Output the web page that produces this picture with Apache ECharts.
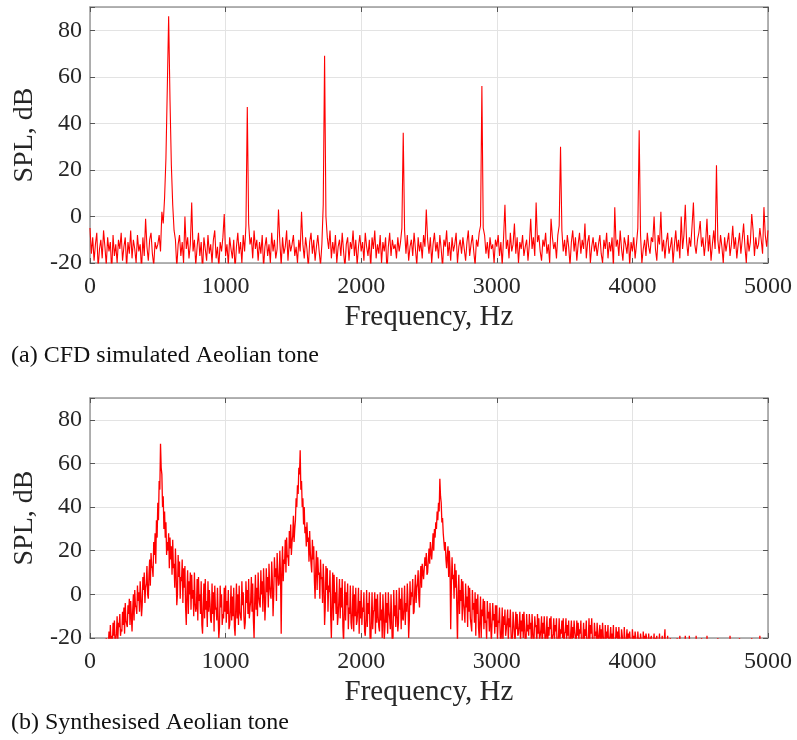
<!DOCTYPE html>
<html>
<head>
<meta charset="utf-8">
<script src="https://cdn.jsdelivr.net/npm/echarts@6/dist/echarts.min.js"></script>
<style>
html,body{margin:0;padding:0;background:#fff;}
#chart{width:797px;height:740px;}
</style>
</head>
<body>
<div id="chart"></div>
<script>
// Frequency sample grid (Hz): 0..5000 every 10 Hz (panel b also has samples halfway, at +5 Hz)
const FREQ_STEP = 10;
const FREQ_MAX = 5000;
const xTicks = [0, 1000, 2000, 3000, 4000, 5000];
const yTicks = [-20, 0, 20, 40, 60, 80];

// (a) CFD simulated Aeolian tone, SPL (dB) at 0,10,20,... Hz
const splCFD = [
  -5,-16,-9,-19,-12,-7,-22,-14,-10,-18,-6,-13,-21,-9,-15,-11,-24,-8,-17,-12,-20,-10,-14,-7,-19,
  -13,-9,-22,-11,-16,-6,-18,-10,-14,-20,-8,-15,-12,-23,-9,-17,-1,-13,-19,-10,-7,-16,-21,-11,-14,
  -12,-8,-15,2,-3,8,25,55,86,50,22,5,-6,-10,-22,-12,-8,-17,-11,-20,0,-14,-9,-18,-12,
  6,-15,-10,-21,-13,-7,-17,-11,-24,-9,-14,-19,-8,-16,-12,-20,-10,-6,-18,-13,-22,-11,-15,-9,1,
  -17,-12,-21,-9,-14,-18,-10,-23,-13,-7,-16,-11,-20,-8,-15,-4,47,-3,-12,-9,-18,-6,-14,-10,-19,
  -11,-16,-8,-22,-13,-9,-17,-12,-20,-7,-15,-10,-18,-14,3,-11,-21,-9,-16,-13,-6,-19,-10,-15,-12,
  -8,-17,-13,-20,-10,-15,2,-12,-18,-9,-14,-22,-11,-7,-16,-10,-19,-13,-8,-15,-21,-12,5,69,0,
  -9,-14,-6,-18,-11,-16,-8,-20,-13,-10,-17,-7,-15,-22,-12,-9,-19,-11,-14,-6,-17,-10,-21,-13,-8,
  -15,-11,-19,-7,-13,-17,-10,-22,-9,-14,-6,-18,-12,-16,-8,-20,-11,-15,-9,-24,-13,-7,-17,-10,-14,
  -12,-18,-9,-15,-11,-5,36,-6,-16,-8,-19,-13,-10,-17,-7,-14,-21,-9,-15,-11,-18,-8,-13,3,-10,
  -16,-9,-20,-12,-7,-15,-11,-18,-8,-14,-22,-10,-13,-6,-17,-11,-19,-9,-15,-12,-7,-20,-13,-10,-16,
  -9,-14,-19,-11,-6,-17,-12,-8,-15,-21,-10,-13,-7,-4,56,-5,-8,-16,-11,-18,-9,-14,-12,-20,-10,
  -13,-8,-17,-11,-21,-9,5,-14,-10,-18,-7,-15,-12,-3,-16,-9,-20,-11,-14,-8,-17,-13,-10,-19,-12,
  -1,-14,-9,-17,6,-11,-8,-15,-19,-10,-13,-7,-16,-12,-20,-1,-9,-14,-11,-18,-8,-4,30,-6,-15,
  -10,-17,-8,-13,-21,-11,-6,-15,-9,-19,-12,-7,-16,-10,-14,-3,-18,-11,-8,-20,-13,-9,-15,-11,-17,
  -12,-8,-16,-20,-10,-14,-7,-18,-11,-15,-9,-22,4,-13,-10,-17,-6,-14,-19,-9,-12,-16,-8,-21,-11,
  -15,-9,-18,-12,-5,37,-8,-20,-14,-10,-17,-7,-13,-16,-9,-11,0,-14,-19,-8,-12,2,-15,-10,-18,
  -11,-7,-16,-13,-9,-20,-12,-6,-15,-10,-18,0,-14,-8,5,-11,-17,-9,-13,-4,6,-12,-16,-10,-7,
  -2,-13,-9,-17,-11,-1,-15,-8,-19,-12,-6,-14,22,-10,-16,-8,-13,-20,-9,-15,-11,-7,-17,-12,-4,
  -14,-9,-18,-12,-7,-16,-10,-3,-13,-20,-8,-15,-11,1,-6,-17,-9,-14,-12,-5,-10,-16,4,-8,-13,
  -6
];

// (b) Synthesised Aeolian tone, SPL (dB) at 0,10,20,... Hz
const splSynthA = [
  -35,-33,-38,-34,-36,-32,-35,-30,-33,-28,-31,-25,-20,-22,-17,-14,-19,-13,-12,-21,-10,-13,-9,-16,-8,
  -6,-4,-12,-5,-2,-3,-17,0,2,-6,4,1,6,-10,8,10,3,13,-2,16,19,12,24,28,34,
  42,52,69,55,45,38,33,24,28,26,22,25,14,21,-5,18,15,8,16,12,13,-14,11,6,10,
  9,2,10,-8,7,8,0,6,-18,5,7,-3,6,2,-12,5,1,4,-6,3,-20,4,0,-9,3,
  4,-3,2,-14,4,-1,3,-19,5,0,4,-8,6,1,-16,6,2,7,-6,8,5,-20,9,3,10,
  -4,11,6,12,-12,12,8,14,0,15,-10,17,12,19,4,20,-18,22,16,25,26,18,29,32,24,
  36,30,44,50,58,66,52,44,40,31,33,26,29,14,25,22,-2,20,17,10,16,8,14,-14,13,
  12,4,11,-20,10,9,1,8,-10,7,3,7,-22,6,1,5,-6,4,-16,4,0,3,-12,3,-3,
  2,-6,1,-19,2,-4,1,-24,1,-8,1,-2,0,-15,1,-7,0,-21,1,-4,1,-11,0,-25,2,
  -5,2,-17,3,-2,3,-12,4,-4,5,-20,6,1,7,-8,9,3,11,-6,13,14,7,17,19,10,
  21,24,16,28,30,33,38,42,53,42,35,28,24,12,22,20,-16,17,9,14,11,-22,9,2,7,
  6,-8,5,-1,4,3,-14,2,-4,1,-2,0,-20,-1,-7,-2,-3,-12,-3,-8,-4,-22,-4,-9,-5,
  -5,-12,-6,-24,-6,-10,-7,-16,-7,-11,-7,-26,-8,-13,-8,-9,-18,-8,-12,-9,-8,-22,-9,-14,-9,
  -13,-9,-24,-10,-14,-9,-11,-19,-10,-13,-10,-25,-10,-15,-11,-10,-20,-11,-14,-11,-23,-11,-16,-12,-11,
  -18,-11,-14,-12,-26,-12,-15,-12,-20,-12,-13,-16,-12,-27,-13,-16,-12,-21,-11,-14,-11,-24,-13,-17,-13,
  -22,-14,-16,-13,-25,-14,-17,-14,-21,-15,-18,-14,-28,-15,-17,-15,-23,-16,-19,-15,-26,-16,-18,-17,-24,
  -16,-19,-17,-27,-17,-20,-18,-23,-17,-19,-18,-29,-18,-21,-19,-25,-18,-20,-19,-27,-18,-21,-19,-24,-16,
  -22,-19,-28,-20,-24,-21,-30,-22,-20,-26,-19,-24,-21,-29,-19,-23,-22,-19,-27,-21,-25,-22,-19,-28,-21,
  -24,-20,-30,-22,-25,-19,-28,-23,-21,-27,-22,-31,-24,-20,-26,-23,-29,-21,-25,-30,-22,-27,-19,-28,-24,
  -21,-29,-25,-31,-20,-26,-30,-23,-28,-21,-32,-26,-29,-20,-27,-31,-24,-30,-28,-19,-33,-27,-29,-31,-26,
  -30
];

// (b) Synthesised Aeolian tone, SPL (dB) at 5,15,25,... Hz
const splSynthB = [
  -40,-38,-41,-39,-40,-37,-39,-36,-38,-34,-33,-30,-27,-24,-26,-22,-24,-19,-23,-18,-21,-15,-19,-17,-14,
  -18,-12,-15,-9,-14,-10,-7,-12,-5,-9,-3,-8,-1,-5,2,-4,5,0,9,4,13,8,18,14,26,
  34,48,58,40,30,26,18,20,12,16,9,12,3,10,0,8,-2,6,-4,3,-6,2,-9,0,-7,
  -2,-10,-4,-6,-12,-3,-9,-14,-5,-11,-7,-15,-8,-4,-13,-9,-17,-7,-12,-10,-15,-6,-14,-11,-8,
  -13,-9,-16,-7,-12,-10,-15,-6,-11,-14,-8,-12,-5,-10,-13,-4,-9,-11,-3,-8,-12,-2,-7,-10,-1,
  -6,0,-8,2,-4,1,-6,4,-2,6,0,8,-3,10,5,9,12,6,14,10,17,13,21,18,27,
  24,34,40,46,55,48,40,32,28,22,24,15,19,10,16,6,12,2,9,-2,7,-4,5,-6,2,
  -8,1,-10,-2,-12,-4,-9,-14,-3,-11,-6,-15,-8,-12,-5,-16,-9,-13,-7,-17,-10,-14,-6,-18,-11,
  -14,-8,-17,-11,-15,-9,-19,-12,-16,-7,-18,-13,-10,-17,-12,-20,-9,-15,-13,-18,-8,-16,-12,-19,-10,
  -15,-9,-13,-7,-16,-11,-6,-14,-8,-3,-12,-5,-1,-9,2,-4,5,-2,8,3,10,7,13,9,16,
  14,19,22,20,26,30,34,38,45,33,28,20,16,18,8,12,4,7,-2,3,-6,1,-9,-3,-12,
  -4,-13,-6,-15,-8,-11,-17,-7,-13,-19,-9,-15,-11,-20,-10,-16,-13,-21,-11,-17,-14,-22,-12,-18,-15,
  -21,-13,-18,-16,-23,-14,-19,-12,-22,-15,-18,-20,-13,-24,-16,-19,-14,-22,-17,-20,-15,-25,-17,-19,-16,
  -22,-17,-20,-15,-24,-18,-21,-16,-26,-18,-20,-17,-23,-19,-16,-25,-18,-21,-17,-27,-19,-22,-18,-20,-24,
  -17,-21,-19,-25,-18,-22,-20,-17,-26,-19,-21,-18,-24,-20,-22,-19,-28,-20,-23,-18,-21,-25,-19,-22,-20,
  -18,-24,-21,-19,-27,-22,-20,-25,-19,-23,-21,-29,-22,-20,-26,-21,-24,-19,-28,-22,-21,-25,-20,-23,-27,
  -21,-24,-20,-29,-22,-25,-21,-27,-22,-24,-20,-30,-23,-21,-26,-22,-28,-21,-25,-23,-30,-22,-26,-21,-28,
  -25,-30,-23,-27,-31,-24,-28,-26,-32,-23,-29,-27,-25,-31,-24,-28,-30,-26,-23,-29,-27,-32,-25,-30,-28,
  -27,-32,-25,-29,-31,-26,-33,-28,-24,-30,-27,-33,-29,-26,-31,-28,-34,-27,-30,-32,-26,-31,-29,-33,-28,
  -30,-33,-27,-34,-29,-31,-35,-28,-32,-30,-34,-29,-33,-31,-28,-35,-30,-33,-31,-29,-36,-32,-30,-34,-31
];

function pairs(vals) {
  const out = [];
  for (let i = 0; i < vals.length; i++) out.push([i * FREQ_STEP, vals[i]]);
  return out;
}
function pairsInterleaved(a, b) {
  const out = [];
  for (let i = 0; i < a.length; i++) {
    out.push([i * FREQ_STEP, a[i]]);
    if (i < b.length) out.push([i * FREQ_STEP + FREQ_STEP / 2, b[i]]);
  }
  return out;
}

const FONT = '"Liberation Serif", "Times New Roman", serif';
const TXT = '#262626';
const BOX = '#9a9a9a';
const GRIDC = '#e3e3e3';

const grids = [
  { left: 90, top: 7, width: 678, height: 256 },
  { left: 90, top: 398, width: 678, height: 240 }
];

function xAxes(gi) {
  return [
    {
      gridIndex: gi, type: 'value', min: 0, max: FREQ_MAX, interval: 1000, position: 'bottom',
      name: 'Frequency, Hz', nameLocation: 'middle', nameGap: 40,
      nameTextStyle: { fontFamily: FONT, fontSize: 29, color: TXT },
      axisLine: { onZero: false, lineStyle: { color: BOX, width: 1.5 } },
      axisTick: { inside: true, length: 5, lineStyle: { color: '#555', width: 1 } },
      axisLabel: { margin: 12, fontFamily: FONT, fontSize: 24, color: TXT,
        formatter: function (v) { return xTicks.indexOf(v) >= 0 ? String(v) : ''; } },
      splitLine: { show: true, lineStyle: { color: GRIDC, width: 1 } }
    },
    {
      gridIndex: gi, type: 'value', min: 0, max: FREQ_MAX, interval: 1000, position: 'top',
      axisLine: { onZero: false, lineStyle: { color: BOX, width: 1.5 } },
      axisTick: { inside: true, length: 5, lineStyle: { color: '#555', width: 1 } },
      axisLabel: { show: false },
      splitLine: { show: false }
    }
  ];
}

function yAxes(gi) {
  return [
    {
      gridIndex: gi, type: 'value', min: -20, max: 90, interval: 20, position: 'left',
      name: 'SPL, dB', nameLocation: 'middle', nameGap: 36, nameRotate: 90,
      nameTextStyle: { fontFamily: FONT, fontSize: 28, color: TXT },
      axisLine: { onZero: false, lineStyle: { color: BOX, width: 1.5 } },
      axisTick: { inside: true, length: 5, lineStyle: { color: '#555', width: 1 } },
      axisLabel: { margin: 8, fontFamily: FONT, fontSize: 24, color: TXT,
        formatter: function (v) { return yTicks.indexOf(v) >= 0 ? String(v) : ''; } },
      splitLine: { show: true, lineStyle: { color: GRIDC, width: 1 } }
    },
    {
      gridIndex: gi, type: 'value', min: -20, max: 90, interval: 20, position: 'right',
      axisLine: { onZero: false, lineStyle: { color: BOX, width: 1.5 } },
      axisTick: { inside: true, length: 5, lineStyle: { color: '#555', width: 1 } },
      axisLabel: { show: false },
      splitLine: { show: false }
    }
  ];
}

const chart = echarts.init(document.getElementById('chart'), null, { renderer: 'canvas' });
chart.setOption({
  animation: false,
  backgroundColor: '#ffffff',
  title: [
    { text: '(a) CFD simulated Aeolian tone', left: 6, top: 339,
      textStyle: { fontFamily: FONT, fontSize: 24, fontWeight: 'normal', color: '#111' } },
    { text: '(b) Synthesised Aeolian tone', left: 6, top: 706,
      textStyle: { fontFamily: FONT, fontSize: 24, fontWeight: 'normal', color: '#111' } }
  ],
  grid: grids,
  xAxis: [].concat(xAxes(0), xAxes(1)),
  yAxis: [].concat(yAxes(0), yAxes(1)),
  series: [
    { type: 'line', xAxisIndex: 0, yAxisIndex: 0, data: pairs(splCFD),
      showSymbol: false, symbol: 'none', clip: true, sampling: null,
      lineStyle: { color: '#ff0000', width: 1.1 } },
    { type: 'line', xAxisIndex: 2, yAxisIndex: 2, data: pairsInterleaved(splSynthA, splSynthB),
      showSymbol: false, symbol: 'none', clip: true, sampling: null,
      lineStyle: { color: '#ff0000', width: 1.3 } }
  ]
});
</script>
</body>
</html>
